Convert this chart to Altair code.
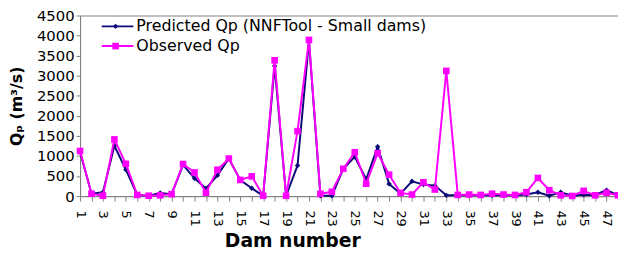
import altair as alt
import pandas as pd

dams = list(range(1, 49))
predicted = [1100, 60, 100, 1255, 660, 30, 10, 80, 50, 780, 445, 190, 517, 936, 400, 197,
             10, 3244, 10, 763, 3860, 10, 10, 682, 978, 419, 1232, 305, 60, 370, 288, 263,
             20, 20, 20, 20, 20, 20, 20, 40, 98, 10, 98, 10, 35, 30, 148, 20]
observed = [1125, 60, 10, 1413, 805, 30, 10, 20, 50, 800, 590, 85, 657, 936, 404, 493,
            10, 3384, 10, 1618, 3892, 59, 108, 682, 1093, 310, 1069, 534, 80, 40, 345, 165,
            3120, 30, 40, 30, 60, 40, 30, 98, 453, 148, 20, 5, 132, 20, 83, 20]
y_ticks = list(range(0, 4501, 500))
legend_labels = ["Predicted Qp (NNFTool - Small dams)", "Observed Qp"]

NAVY = "#0a0a78"
MAGENTA = "#ff00ff"
FONT = "DejaVu Sans"

df = pd.DataFrame({"dam": dams, "pred": predicted, "obs": observed})

xenc = alt.X("dam:Q", scale=alt.Scale(domain=[1, 48], nice=False, zero=False),
             axis=alt.Axis(values=dams, labelExpr="datum.value % 2 == 1 ? datum.label : ''",
                           labelAngle=90, labelFontSize=13, labelFont=FONT, labelColor="black",
                           labelPadding=9, tickSize=5, tickColor="#808080", domainColor="#808080",
                           labelOverlap=False, labelFlush=False, grid=False,
                           title="Dam number", titleFontSize=19, titleFont=FONT,
                           titleFontWeight="bold", titleColor="black",
                           titleX=215, titleY=51, titleBaseline="alphabetic", titleAlign="center"))

def yenc(field):
    return alt.Y(f"{field}:Q", scale=alt.Scale(domain=[0, 4500], nice=False),
                 axis=alt.Axis(values=y_ticks, format="d", labelFontSize=15, labelFont=FONT,
                               labelColor="black",
                               labelPadding=2, tickSize=4, tickColor="#808080", domainColor="#808080",
                               grid=False, title="Qₚ (m³/s)", titleFontSize=16, titleFont=FONT,
                               titleFontWeight="bold", titleColor="black", titleAngle=-90,
                               titleX=-64, titleY=91.5, titleBaseline="middle", titleAlign="center"))

base = alt.Chart(df)
pred_line = base.mark_line(color=NAVY, strokeWidth=2).encode(x=xenc, y=yenc("pred"))
pred_pts = base.mark_point(shape="diamond", filled=True, size=30, color=NAVY, opacity=1).encode(x=xenc, y=yenc("pred"))
obs_line = base.mark_line(color=MAGENTA, strokeWidth=2).encode(x=xenc, y=yenc("obs"))
obs_pts = base.mark_point(shape="square", filled=True, size=45, color=MAGENTA, opacity=1).encode(x=xenc, y=yenc("obs"))

legend_layers = []
for i, (lab, col, shp, sz) in enumerate(zip(legend_labels, [NAVY, MAGENTA], ["diamond", "square"], [30, 45])):
    ly = 11 + 20 * i
    ld = alt.Chart(pd.DataFrame({"t": [lab]}))
    legend_layers.append(ld.mark_rule(color=col, strokeWidth=2).encode(
        x=alt.value(22), x2=alt.value(54), y=alt.value(ly)))
    legend_layers.append(ld.mark_point(shape=shp, filled=True, size=sz, color=col, opacity=1).encode(
        x=alt.value(36), y=alt.value(ly)))
    legend_layers.append(ld.mark_text(align="left", baseline="middle", fontSize=16, font=FONT,
                                      color="black").encode(
        x=alt.value(57), y=alt.value(ly), text="t:N"))

chart = alt.layer(pred_line, pred_pts, obs_line, obs_pts, *legend_layers).properties(
    width=545, height=183, autosize="none",
    padding={"left": 73, "top": 6, "right": 0, "bottom": 56},
    background="white"
).configure_view(stroke="#808080", strokeWidth=1)

chart.save("out.html", embed_options={"renderer": "svg", "actions": False})
